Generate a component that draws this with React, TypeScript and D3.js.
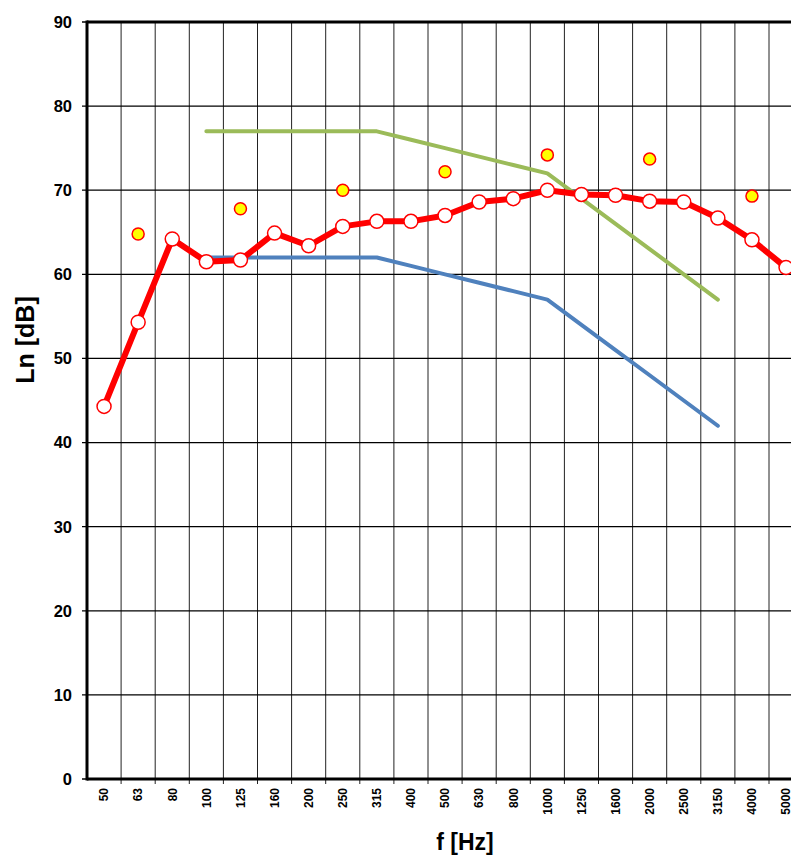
import React from "react";
import * as d3 from "d3";

const categories = ["50","63","80","100","125","160","200","250","315","400","500","630","800","1000","1250","1600","2000","2500","3150","4000","5000"];
const lnValues = [44.3,54.3,64.2,61.5,61.7,64.9,63.4,65.7,66.3,66.3,67.0,68.6,69.0,70.0,69.5,69.4,68.7,68.6,66.7,64.1,60.8];
const octaveCats = ["63","125","250","500","1000","2000","4000"];
const octaveValues = [64.8,67.8,70.0,72.2,74.2,73.7,69.3];
const refCats = ["100","125","160","200","250","315","400","500","630","800","1000","1250","1600","2000","2500","3150"];
const refShifted = [62,62,62,62,62,62,61,60,59,58,57,54,51,48,45,42];
const refUpper = [77,77,77,77,77,77,76,75,74,73,72,69,66,63,60,57];
const yTicks = [0,10,20,30,40,50,60,70,80,90];

export default function App() {
  const left = 87, top = 22, bottom = 779;
  const bw = 34.1;
  const right = left + bw * categories.length;
  const x = d3.scaleBand<string>().domain(categories).range([left, right]).padding(0);
  const cx = (c: string) => (x(c) as number) + x.bandwidth() / 2;
  const y = d3.scaleLinear().domain([0, 90]).range([bottom, top]);
  const line = d3.line<[string, number]>().x(d => cx(d[0])).y(d => y(d[1]));
  const lnData: [string, number][] = categories.map((c, i) => [c, lnValues[i]]);
  const blueData: [string, number][] = refCats.map((c, i) => [c, refShifted[i]]);
  const greenData: [string, number][] = refCats.map((c, i) => [c, refUpper[i]]);
  const boundaries = d3.range(1, categories.length + 1).map(k => left + k * x.bandwidth());

  return (
    <svg width={791} height={855} style={{ position: "absolute", left: 0, top: 0, background: "#fff" }}
      fontFamily="Arial, 'Liberation Sans', sans-serif">
      <rect x={0} y={0} width={791} height={855} fill="#fff" />
      {boundaries.map((bx, i) => (
        <line key={"v" + i} x1={bx} x2={bx} y1={top} y2={bottom + 5} stroke="#222" strokeWidth={1} />
      ))}
      {yTicks.map(t => (
        <line key={"h" + t} x1={left - 5} x2={right} y1={y(t)} y2={y(t)} stroke="#000" strokeWidth={1.3} />
      ))}
      <line x1={left} x2={right} y1={top} y2={top} stroke="#000" strokeWidth={3} />
      <line x1={left} x2={right} y1={bottom} y2={bottom} stroke="#000" strokeWidth={3} />
      <line x1={left} x2={left} y1={top - 1.5} y2={bottom + 1.5} stroke="#000" strokeWidth={3} />
      {yTicks.map(t => (
        <text key={"yl" + t} x={72} y={y(t)} dy="0.36em" textAnchor="end" fontSize={16.5} fontWeight="bold">{t}</text>
      ))}
      {categories.map(c => (
        <text key={"xl" + c} transform={`translate(${cx(c)},788) rotate(-90)`} textAnchor="end" dy="0.36em"
          fontSize={12} fontWeight="bold">{c}</text>
      ))}
      <text transform="translate(34,340) rotate(-90)" textAnchor="middle" fontSize={25} fontWeight="bold">Ln [dB]</text>
      <text x={465} y={850} textAnchor="middle" fontSize={23} fontWeight="bold">f [Hz]</text>
      <path d={line(greenData) || ""} fill="none" stroke="#9BBB59" strokeWidth={4} strokeLinejoin="round" strokeLinecap="round" />
      <path d={line(blueData) || ""} fill="none" stroke="#4F81BD" strokeWidth={4} strokeLinejoin="round" strokeLinecap="round" />
      <path d={line(lnData) || ""} fill="none" stroke="#FF0000" strokeWidth={6} strokeLinejoin="round" />
      {lnData.map(d => (
        <circle key={"m" + d[0]} cx={cx(d[0])} cy={y(d[1])} r={7} fill="#fff" stroke="#FF0000" strokeWidth={1.5} />
      ))}
      {octaveCats.map((c, i) => (
        <circle key={"o" + c} cx={cx(c)} cy={y(octaveValues[i])} r={6} fill="#FFFF00" stroke="#FF0000" strokeWidth={1.5} />
      ))}
    </svg>
  );
}
